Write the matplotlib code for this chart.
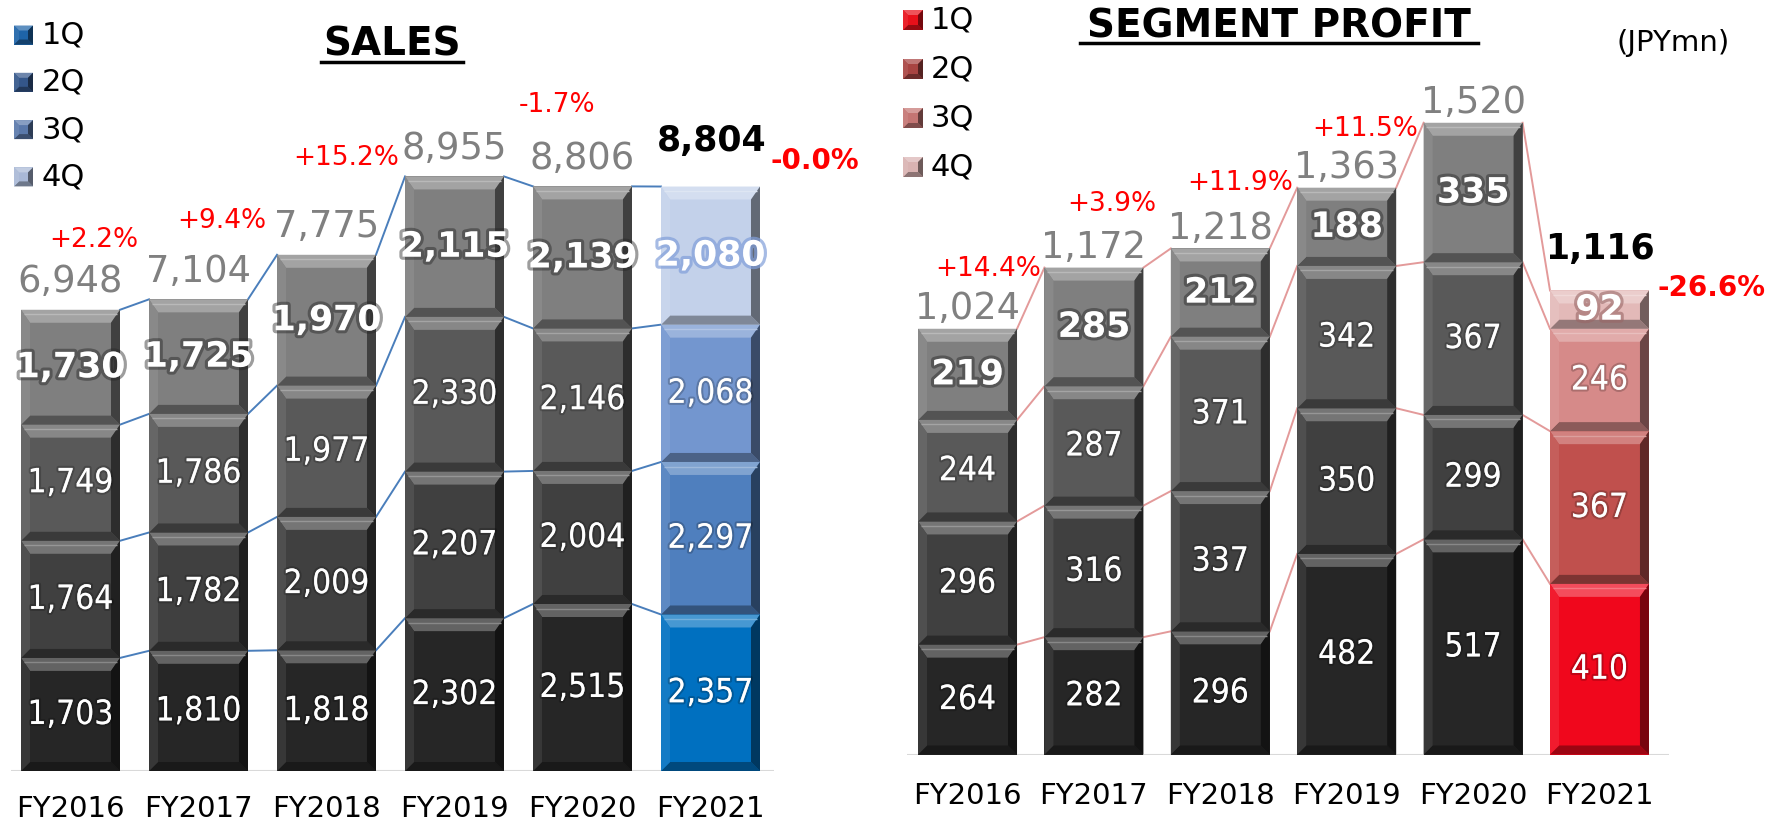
import numpy as np
import matplotlib
matplotlib.use("Agg")
import matplotlib.pyplot as plt
import matplotlib.patheffects as pe
from matplotlib.patches import Polygon, Rectangle
from matplotlib.colors import to_rgb

# ---- data -------------------------------------------------------------
years = ["FY2016", "FY2017", "FY2018", "FY2019", "FY2020", "FY2021"]
quarters = ["1Q", "2Q", "3Q", "4Q"]

sales_q1 = [1703, 1810, 1818, 2302, 2515, 2357]
sales_q2 = [1764, 1782, 2009, 2207, 2004, 2297]
sales_q3 = [1749, 1786, 1977, 2330, 2146, 2068]
sales_q4 = [1730, 1725, 1970, 2115, 2139, 2080]
sales_total = [6948, 7104, 7775, 8955, 8806, 8804]
sales_growth = ["", "+2.2%", "+9.4%", "+15.2%", "-1.7%", "-0.0%"]

profit_q1 = [264, 282, 296, 482, 517, 410]
profit_q2 = [296, 316, 337, 350, 299, 367]
profit_q3 = [244, 287, 371, 342, 367, 246]
profit_q4 = [219, 285, 212, 188, 335, 92]
profit_total = [1024, 1172, 1218, 1363, 1520, 1116]
profit_growth = ["", "+14.4%", "+3.9%", "+11.9%", "+11.5%", "-26.6%"]

# ---- style ------------------------------------------------------------
gray = ["#262626", "#404040", "#595959", "#7f7f7f"]
sales_last = ["#0070c0", "#4f7fbe", "#7396cf", "#c3d1ea"]
profit_last = ["#f0071c", "#c0504d", "#d68a89", "#e3b9b8"]
sales_leg = ["#1e64a8", "#34568a", "#5a78aa", "#a9b8d6"]
profit_leg = ["#e8101a", "#a84442", "#c47573", "#d9b3b2"]
RED = "#ff0000"
TOTAL_GRAY = "#808080"

# growth label offsets (pixels from the bar top centre)
sales_growth_off = [None, (-105, 59), (-105, 34), (-108, 18), (-25, 81), (104, 26)]
profit_growth_off = [None, (-106, -1), (-109, 44), (-107, 5), (-108, -6), (112, 2)]

W, H = 1771, 826
fig = plt.figure(figsize=(W / 100, H / 100), dpi=100)


def px_axes(left, right, base):
    return fig.add_axes([left / W, (H - base) / H, (right - left) / W, base / H])


def mix(c, f, target):
    c = np.array(to_rgb(c))
    return tuple(c + (np.array(target) - c) * f)


def bevel(ax, x0, x1, y0, y1, color, sx, ty, by, z=3, highlight=True):
    sgn = 1 if y1 >= y0 else -1
    h = abs(y1 - y0)
    ty = min(ty, 0.35 * h)
    by = min(by, 0.3 * h)
    sx = min(sx, 0.3 * abs(x1 - x0))
    yt = y1 - sgn * ty
    yb = y0 + sgn * by
    polys = [
        ([(x0, y1), (x1, y1), (x1 - sx, yt), (x0 + sx, yt)], mix(color, 0.28, (1, 1, 1))),
        ([(x0, y0), (x1, y0), (x1 - sx, yb), (x0 + sx, yb)], mix(color, 0.35, (0, 0, 0))),
        ([(x0, y0), (x0 + sx, yb), (x0 + sx, yt), (x0, y1)], mix(color, 0.08, (1, 1, 1))),
        ([(x1, y0), (x1 - sx, yb), (x1 - sx, yt), (x1, y1)], mix(color, 0.5, (0, 0, 0))),
    ]
    for pts, c in polys:
        ax.add_patch(Polygon(pts, closed=True, facecolor=c, edgecolor="none", zorder=z))
    if highlight:
        ax.plot([x0 + sx * 0.3, x1 - sx * 0.3], [y1 - sgn * ty * 0.35] * 2,
                color=mix(color, 0.45, (1, 1, 1)), lw=1, zorder=z + 0.1,
                solid_capstyle="butt")


def draw_chart(ax, qs, last_colors, width, totals, growth, growth_off,
               total_dy, last_total_dy, line_col, cat_dy, glow_last):
    x = np.arange(len(years))
    ppx = ax.bbox.width / np.diff(ax.get_xlim())[0]
    ppy = ax.bbox.height / np.diff(ax.get_ylim())[0]
    bottom = np.zeros(len(years))
    levels = []
    for q, vals in enumerate(qs):
        vals = np.array(vals)
        cols = [gray[q]] * (len(years) - 1) + [last_colors[q]]
        bars = ax.bar(x, vals, width, bottom=bottom, color=cols, linewidth=0, zorder=2)
        for b, c in zip(bars, cols):
            bevel(ax, b.get_x(), b.get_x() + b.get_width(), b.get_y(),
                  b.get_y() + b.get_height(), c, 9 / ppx, 13 / ppy, 9 / ppy)
        for i, v in enumerate(vals):
            yc = bottom[i] + v / 2
            if q == 3:
                glow = glow_last if i == len(years) - 1 else (0.15, 0.15, 0.15, 0.45)
                ax.text(x[i], yc, f"{v:,}", ha="center", va="center", color="white",
                        fontsize=25, fontweight="bold", zorder=6,
                        path_effects=[pe.withStroke(linewidth=4.5, foreground=glow)])
            else:
                ax.text(x[i], yc, f"{v:,}", ha="center", va="center", color="white",
                        fontsize=24, fontstretch="condensed", zorder=6,
                        path_effects=[pe.withStroke(linewidth=3, foreground=(0, 0, 0, 0.2))])
        bottom = bottom + vals
        levels.append(bottom.copy())

    for lev in levels:
        for i in range(len(x) - 1):
            ax.plot([x[i] + width / 2, x[i + 1] - width / 2], [lev[i], lev[i + 1]],
                    color=line_col, lw=1.4, zorder=1)

    top = levels[-1]
    for i, t in enumerate(totals):
        last = i == len(years) - 1
        if last:
            ax.annotate(f"{t:,}", (x[i], top[i]), xytext=(1, last_total_dy),
                        textcoords="offset pixels", ha="center", va="center",
                        fontsize=25, fontweight="bold", color="black", zorder=7,
                        annotation_clip=False)
        else:
            ax.annotate(f"{t:,}", (x[i], top[i]), xytext=(0, total_dy),
                        textcoords="offset pixels", ha="center", va="center",
                        fontsize=26.5, color=TOTAL_GRAY, zorder=7, annotation_clip=False)
        if growth[i]:
            dx, dy = growth_off[i]
            ax.annotate(growth[i], (x[i], top[i]), xytext=(dx, dy),
                        textcoords="offset pixels", ha="center", va="center",
                        fontsize=20 if last else 19, fontweight="bold" if last else "normal",
                        color=RED, zorder=7, annotation_clip=False)
        ax.annotate(years[i], (x[i], 0), xytext=(0, cat_dy), textcoords="offset pixels",
                    ha="center", va="center", fontsize=21, color="black",
                    annotation_clip=False)

    ax.axhline(0, color="#d9d9d9", lw=2.2, zorder=1.5)
    ax.axis("off")


# ---- sales ------------------------------------------------------------
ax_s = px_axes(11, 774, 771)
ax_s.set_xlim(-0.465, 5.496)
ax_s.set_ylim(0, 11611)
draw_chart(ax_s, [sales_q1, sales_q2, sales_q3, sales_q4], sales_last, 0.773,
           sales_total, sales_growth, sales_growth_off, 28, 46, "#4a7ebb", -38,
           (0.5, 0.62, 0.85, 0.7))

# ---- segment profit ---------------------------------------------------
ax_p = px_axes(907, 1669, 754.5)
ax_p.set_xlim(-0.479, 5.55)
ax_p.set_ylim(0, 1813)
draw_chart(ax_p, [profit_q1, profit_q2, profit_q3, profit_q4], profit_last, 0.783,
           profit_total, profit_growth, profit_growth_off, 20, 41, "#e39a9a", -42,
           (0.6, 0.4, 0.4, 0.6))

# ---- overlay: titles, legends, unit -----------------------------------
ov = fig.add_axes([0, 0, 1, 1])
ov.set_xlim(0, W)
ov.set_ylim(H, 0)
ov.axis("off")
ov.patch.set_alpha(0)

for q, lab in enumerate(quarters):
    yc = 35 + q * 47.3
    ov.add_patch(Rectangle((14, yc - 9.5), 19, 19, facecolor=sales_leg[q], edgecolor="none", zorder=2))
    bevel(ov, 14, 33, yc + 9.5, yc - 9.5, sales_leg[q], 5, 5, 5, highlight=False)
    ov.text(42, yc, lab, ha="left", va="center", fontsize=22, color="black")
    yc = 20 + q * 49
    ov.add_patch(Rectangle((903, yc - 10), 20, 20, facecolor=profit_leg[q], edgecolor="none", zorder=2))
    bevel(ov, 903, 923, yc + 10, yc - 10, profit_leg[q], 5, 5, 5, highlight=False)
    ov.text(931, yc, lab, ha="left", va="center", fontsize=22, color="black")

ov.text(392, 44, "SALES", ha="center", va="center", fontsize=28, fontweight="bold")
ov.plot([321, 463], [62, 62], color="black", lw=2.5)
ov.text(1279, 27, "SEGMENT PROFIT", ha="center", va="center", fontsize=28, fontweight="bold")
ov.plot([1080, 1478], [43, 43], color="black", lw=2.5)
ov.text(1673, 43, "(JPYmn)", ha="center", va="center", fontsize=21, color="black")

fig.savefig("out.png", dpi=100)
